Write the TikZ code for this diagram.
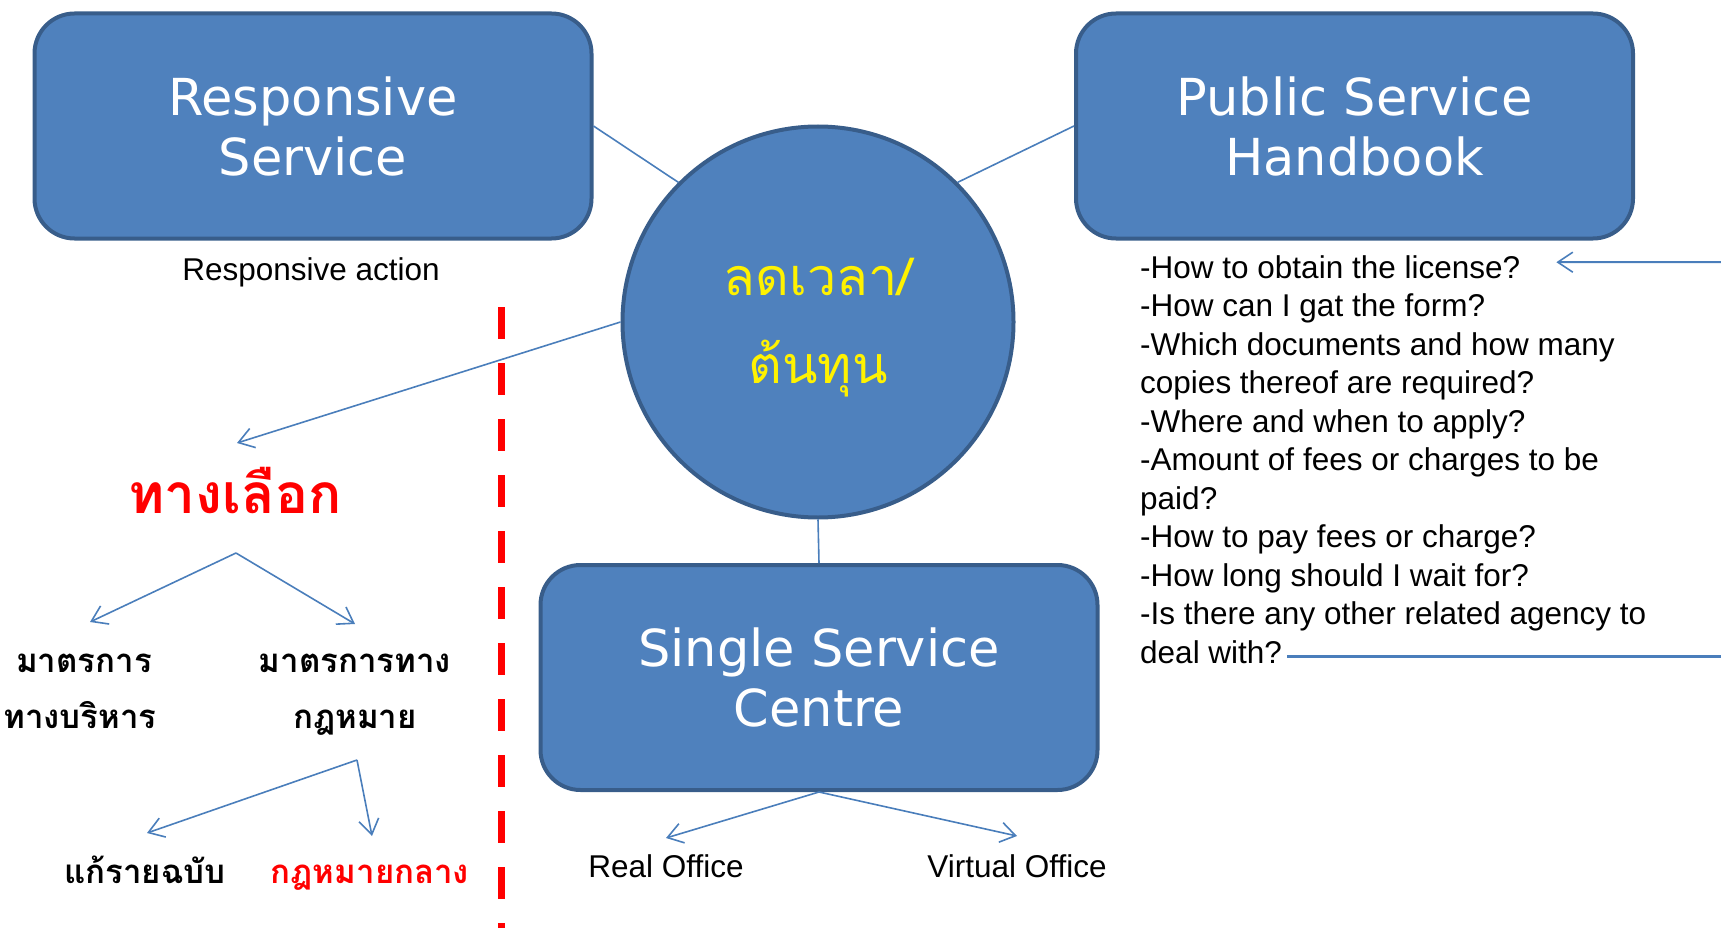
\documentclass[tikz,border=0pt]{standalone}
\usepackage{fontspec}
\setmainfont{Liberation Sans}
\newfontfamily\boxfont{DejaVu Sans}
\newfontfamily\thaifont[Script=Thai]{Loma}
\usetikzlibrary{arrows.meta}
\usetikzlibrary{positioning}
\definecolor{boxblue}{HTML}{4F81BD}
\definecolor{boxedge}{HTML}{385D8A}
\definecolor{lineblue}{HTML}{4A7EBB}

\tikzset{
  bigbox/.style={draw=boxedge, line width=4pt, fill=boxblue, rounded corners=40pt,
    minimum width=557pt, minimum height=225pt, text=white, align=center,
    font=\boxfont\fontsize{51}{60}\selectfont},
  link/.style={draw=lineblue, line width=1.6pt},
  pointer/.style={link, -{Straight Barb[length=15pt,width=20pt,line width=1.6pt]}},
  faqline/.style={anchor=base west, inner sep=0pt, font=\fontsize{31.5}{38.5}\selectfont},
  plain/.style={anchor=base, inner sep=0pt, font=\fontsize{31.5}{38.5}\selectfont},
  thaibig/.style={anchor=base, inner sep=0pt, font=\thaifont\bfseries\fontsize{55}{60}\selectfont},
  thaismall/.style={anchor=base, inner sep=0pt, font=\thaifont\bfseries\fontsize{33}{40}\selectfont},
  divider/.style={draw=red, line width=7pt, dash pattern=on 32pt off 24pt},
}

\begin{document}
\begin{tikzpicture}[x=1pt,y=-1pt]
\useasboundingbox (0,0) rectangle (1721,928);

% the three boxes and the circle
\node[bigbox] (resp) at (313,126) {Responsive\\Service};
\node[bigbox] (psh) at (1354.5,126) {Public Service\\Handbook};
\node[bigbox] (ssc) at (819,677.5) {Single Service\\Centre};
\node[circle, draw=boxedge, line width=4pt, fill=boxblue, minimum size=391pt]
  (cost) at (818,322) {};
\node[text=yellow, align=center, font=\thaifont\fontsize{52}{88}\selectfont]
  (costtxt) at ([yshift=-6pt]cost.center) {ลดเวลา/\\ต้นทุน};

\draw[link] (resp.east) -- (cost.135);
\draw[link] (psh.west) -- (cost.45);
\draw[link] (cost.south) -- (ssc.north);

% captions
\node[plain] (respact) at (311,280) {Responsive action};
\node[plain] (real) at (666,877) {Real Office};
\node[plain] (virtual) at (1017,877) {Virtual Office};

\draw[pointer] (ssc.south) -- ([yshift=39pt]real.base);
\draw[pointer] (ssc.south) -- ([yshift=41pt]virtual.base);

% handbook questions
\foreach \txt [count=\i] in {-How to obtain the license?, -How can I gat the form?,
  -Which documents and how many, copies thereof are required?,
  -Where and when to apply?, -Amount of fees or charges to be, paid?,
  -How to pay fees or charge?, -How long should I wait for?,
  -Is there any other related agency to, deal with?}
  \node[faqline] (q\i) at (1140,{278+38.5*(\i-1)}) {\txt};

\coordinate (feedin) at (1721,262);
\draw[pointer, line width=2pt] (feedin) -- ([xshift=36pt,yshift=4.5pt]q1.east);
\draw[draw=lineblue, line width=2.7pt] ([xshift=5pt,yshift=-4.5pt]q11.east) -- ++(450,0);

% options on the left
\node[thaibig, text=red] (choice) at (235,513) {ทางเลือก};
\node[thaismall] (admin1) at (84,672) {มาตรการ};
\node[thaismall] (admin2) at (80,728) {ทางบริหาร};
\node[thaismall] (law1) at (355,672) {มาตรการทาง};
\node[thaismall] (law2) at (355,728) {กฎหมาย};
\node[thaismall] (amend) at (145,883) {แก้รายฉบับ};
\node[thaismall, text=red] (central) at (370,883) {กฎหมายกลาง};

\draw[pointer] (cost.west) -- ([xshift=2pt,yshift=70pt]choice.base);
\draw[pointer] ([xshift=1pt,yshift=-40pt]choice.base) -- ([xshift=6pt,yshift=50pt]admin1.base);
\draw[pointer] ([xshift=1pt,yshift=-40pt]choice.base) -- ([yshift=48pt]law1.base);
\draw[pointer] ([xshift=2pt,yshift=-32pt]law2.base) -- ([xshift=2pt,yshift=50pt]amend.base);
\draw[pointer] ([xshift=2pt,yshift=-32pt]law2.base) -- ([xshift=2pt,yshift=47pt]central.base);

\draw[divider] (501,307) -- (501,960);
\end{tikzpicture}
\end{document}
